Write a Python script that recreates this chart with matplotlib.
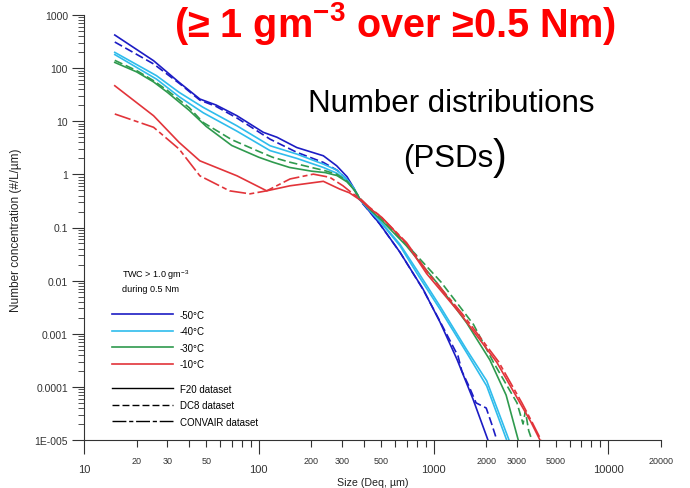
import numpy as np
import matplotlib
matplotlib.use("Agg")
from matplotlib import pyplot as plt
from matplotlib.ticker import FixedLocator, FixedFormatter, FuncFormatter, LogLocator

plt.rc('font', family='Liberation Sans')
plt.rc('mathtext', fontset='custom', rm='Liberation Sans', bf='Liberation Sans:bold')

# Deq size (um) and number concentration (#/L/um) for each temperature / dataset
size_50_f20 = [15, 25, 35, 46, 57, 75, 106, 127, 165, 234, 279, 320, 350, 380, 430, 493, 643, 871, 1089, 1361, 1680, 2046]
conc_50_f20 = [420, 138, 54, 26.2, 20.2, 12.7, 6.2, 5.0, 3.2, 2.24, 1.45, 0.9, 0.55, 0.33, 0.2, 0.116, 0.034, 0.0069, 0.00165, 3.3e-4, 5.9e-5, 1e-5]

size_50_dc8 = [15, 25, 35, 46, 57, 75, 116, 165, 234, 280, 320, 350, 380, 430, 493, 643, 871, 1089, 1380, 1450, 1600, 1750, 2000, 2150, 2300]
conc_50_dc8 = [310, 120, 52, 25, 19, 11.5, 4.6, 2.6, 1.68, 1.2, 0.8, 0.52, 0.32, 0.2, 0.115, 0.034, 0.0068, 0.0017, 3.8e-4, 2e-4, 1e-4, 5e-5, 4e-5, 2e-5, 1e-5]

size_40_a = [15, 26, 35, 48, 75, 116, 165, 234, 280, 320, 350, 380, 430, 493, 643, 800, 1088, 1546, 2013, 2618]
conc_40_a = [198, 72, 35, 18.3, 8.2, 3.46, 2.41, 1.56, 1.2, 0.8, 0.55, 0.33, 0.21, 0.13, 0.045, 0.014, 0.0029, 4.4e-4, 1.04e-4, 1e-5]

size_40_b = [15, 26, 35, 48, 75, 116, 165, 234, 280, 320, 350, 380, 430, 493, 643, 800, 1088, 1546, 2013, 2700]
conc_40_b = [180, 62, 29, 14.5, 6.5, 2.8, 2.0, 1.35, 1.05, 0.75, 0.52, 0.33, 0.22, 0.135, 0.048, 0.016, 0.0033, 5e-4, 1.3e-4, 1e-5]

size_30_f20 = [15, 20, 25, 30, 40, 50, 70, 100, 120, 150, 200, 240, 280, 320, 350, 380, 430, 500, 700, 1042, 1546, 2100, 2600, 3050]
conc_30_f20 = [128, 85, 55, 35, 16, 8, 3.5, 2.1, 1.7, 1.35, 1.15, 1.08, 0.95, 0.72, 0.52, 0.34, 0.22, 0.14, 0.045, 0.0092, 1.6e-3, 3.2e-4, 7e-5, 1e-5]

size_30_dc8 = [15, 20, 25, 30, 40, 48, 70, 100, 120, 150, 200, 240, 280, 320, 350, 380, 430, 500, 700, 1100, 1690, 2200, 3000, 3250, 3350, 3500, 3650]
conc_30_dc8 = [140, 90, 58, 38, 18, 9.5, 4.5, 2.7, 2.1, 1.7, 1.35, 1.17, 1.0, 0.75, 0.53, 0.35, 0.23, 0.15, 0.048, 0.0095, 1.5e-3, 2.9e-4, 5e-5, 2e-5, 3.5e-5, 1.5e-5, 1e-5]

size_10_f20 = [15, 25, 35, 46, 75, 111, 151, 234, 290, 330, 380, 430, 500, 700, 913, 1449, 2300, 3121, 3600, 4060]
conc_10_f20 = [46.6, 12.7, 4.0, 1.8, 0.94, 0.49, 0.61, 0.74, 0.53, 0.45, 0.33, 0.23, 0.16, 0.05, 0.0135, 2.2e-3, 2.9e-4, 5e-5, 2.2e-5, 1e-5]

size_10_cv = [15, 25, 35, 46, 68, 89, 111, 151, 205, 255, 303, 340, 380, 430, 500, 700, 930, 1470, 2350, 3200, 3650, 4120]
conc_10_cv = [13.7, 7.7, 3.0, 0.94, 0.49, 0.43, 0.49, 0.82, 1.01, 0.88, 0.61, 0.45, 0.35, 0.24, 0.16, 0.052, 0.014, 2.3e-3, 3e-4, 5e-5, 2.2e-5, 1e-5]

temp_labels = ['-50°C', '-40°C', '-30°C', '-10°C']
dataset_labels = ['F20 dataset', 'DC8 dataset', 'CONVAIR dataset']

x_major = [10, 100, 1000, 10000]
x_major_labels = ['10', '100', '1000', '10000']
x_minor_labels = {20: '20', 30: '30', 50: '50', 200: '200', 300: '300', 500: '500',
                  2000: '2000', 3000: '3000', 5000: '5000', 20000: '20000'}
y_major = [1e-5, 1e-4, 1e-3, 1e-2, 1e-1, 1, 10, 100, 1000]
y_major_labels = ['1E-005', '0.0001', '0.001', '0.01', '0.1', '1', '10', '100', '1000']

blue = '#1c1cc4'
cyan = '#2fbcec'
green = '#2f9a4e'
red = '#e2343a'
dc8_ls = (0, (5, 2.2))
cv_ls = (0, (10, 2, 3, 2))

fig = plt.figure(figsize=(6.9, 4.89), dpi=100)
ax = fig.add_axes([84/690, 48/489, 577/690, 425/489])

lw = 1.2
ax.plot(size_50_f20, conc_50_f20, color=blue, lw=lw)
ax.plot(size_50_dc8, conc_50_dc8, color=blue, lw=lw, ls=dc8_ls)
ax.plot(size_40_a, conc_40_a, color=cyan, lw=lw)
ax.plot(size_40_b, conc_40_b, color=cyan, lw=lw)
ax.plot(size_30_f20, conc_30_f20, color=green, lw=lw)
ax.plot(size_30_dc8, conc_30_dc8, color=green, lw=lw, ls=dc8_ls)
ax.plot(size_10_f20, conc_10_f20, color=red, lw=lw)
ax.plot(size_10_cv, conc_10_cv, color=red, lw=lw, ls=cv_ls)

ax.set_xscale('log')
ax.set_yscale('log')
ax.set_xlim(10, 20000)
ax.set_ylim(1e-5, 1000)

ax.xaxis.set_major_locator(FixedLocator(x_major))
ax.xaxis.set_major_formatter(FixedFormatter(x_major_labels))
minor_x = [m * d for d in (10, 100, 1000) for m in range(2, 10)] + [20000]
ax.xaxis.set_minor_locator(FixedLocator(minor_x))
ax.xaxis.set_minor_formatter(FuncFormatter(lambda v, p: x_minor_labels.get(int(round(v)), '')))

ax.yaxis.set_major_locator(FixedLocator(y_major))
ax.yaxis.set_major_formatter(FixedFormatter(y_major_labels))
ax.yaxis.set_minor_locator(LogLocator(base=10, subs=np.arange(2, 10), numticks=20))

axcol = '#333333'
for s in ['top', 'right']:
    ax.spines[s].set_visible(False)
for s in ['left', 'bottom']:
    ax.spines[s].set_color(axcol)
    ax.spines[s].set_linewidth(0.8)

ax.tick_params(axis='y', which='major', direction='out', length=8.6, width=0.8, labelsize=7.5, pad=3, colors=axcol)
ax.tick_params(axis='y', which='minor', direction='out', length=4.5, width=0.6, colors=axcol)
ax.tick_params(axis='x', which='major', direction='out', length=10, width=0.8, labelsize=8, pad=7.5, colors=axcol)
ax.tick_params(axis='x', which='minor', direction='out', length=5, width=0.8, labelsize=6.5, pad=6.5, colors=axcol)

ax.set_ylabel('Number concentration (#/L/µm)', fontsize=8.5, color='#222222')
ax.yaxis.set_label_coords(-0.107, 0.495)
ax.set_xlabel('Size (Deq, µm)', fontsize=7.7, color='#222222')
ax.xaxis.set_label_coords(0.5, -0.086)

# legend blocks
ax.text(0.066, 0.39, 'TWC > 1.0 gm$^{-3}$', fontsize=6.5, va='center', transform=ax.transAxes)
ax.text(0.066, 0.357, 'during 0.5 Nm', fontsize=6.5, va='center', transform=ax.transAxes)

temp_handles = [plt.Line2D([], [], color=c, lw=lw) for c in (blue, cyan, green, red)]
leg1 = ax.legend(temp_handles, temp_labels, loc='upper left', bbox_to_anchor=(0.0485, 0.3064),
                 frameon=False, borderpad=0, borderaxespad=0, handlelength=6.3,
                 handletextpad=0.7, labelspacing=0.67, prop={'size': 7})
ax.add_artist(leg1)
style_handles = [plt.Line2D([], [], color='k', lw=1.0, ls=s) for s in ('-', dc8_ls, cv_ls)]
ax.legend(style_handles, dataset_labels, loc='upper left', bbox_to_anchor=(0.0485, 0.1322),
          frameon=False, borderpad=0, borderaxespad=0, handlelength=6.3,
          handletextpad=0.7, labelspacing=0.67, prop={'size': 7})

# headline texts
fig.text(395/690, 1 - 37/489, r'(≥ 1 gm$^{\mathbf{-3}}$ over ≥0.5 Nm)', color='#ff0000',
         fontsize=28.5, fontweight='bold', ha='center', va='baseline')
fig.text(451/690, 1 - 112/489, 'Number distributions', fontsize=22.5, ha='center', va='baseline')
fig.text(493/690, 1 - 167/489, '(PSDs', fontsize=22.5, ha='right', va='baseline')
fig.text(493/690, 1 - 169/489, ')', fontsize=30, ha='left', va='baseline')

fig.savefig('out.png', dpi=100)
